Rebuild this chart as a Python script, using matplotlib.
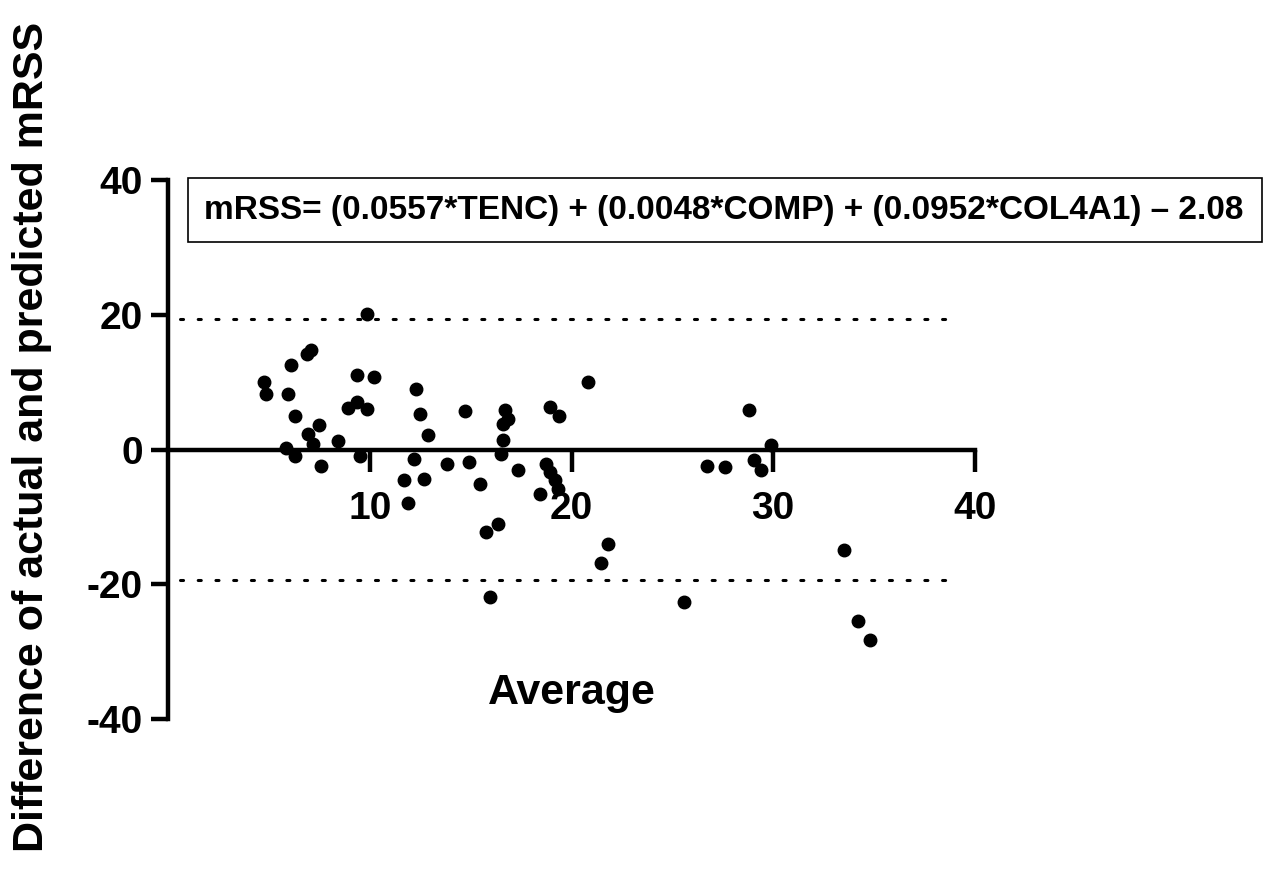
import matplotlib.pyplot as plt
from matplotlib import font_manager
from matplotlib.patches import Rectangle

plt.rcParams['font.family'] = ['Liberation Sans', 'DejaVu Sans']
plt.rcParams['font.weight'] = 'bold'
plt.rcParams['axes.unicode_minus'] = False

# Bland-Altman data
avg = [9.87, 7.11, 6.87, 6.12, 4.77, 4.88, 5.96, 9.37, 10.2, 9.37, 8.93, 9.87,
       6.29, 7.49, 6.95, 7.19, 8.43, 5.87, 6.29, 7.56, 9.5, 12.28, 12.51, 12.89,
       12.19, 13.83, 11.7, 12.67, 11.9, 14.7, 14.92, 15.45, 16.68, 16.85, 16.6,
       16.6, 16.52, 17.34, 16.35, 15.74, 15.94, 18.91, 19.36, 18.74, 18.94,
       19.16, 19.32, 18.42, 20.84, 21.8, 21.47, 28.81, 26.7, 27.62, 29.06,
       29.39, 29.88, 33.51, 25.59, 34.2, 34.8]
diff = [20.1, 14.7, 14.2, 12.5, 10.0, 8.2, 8.3, 11.1, 10.7, 7.0, 6.2, 6.0,
        5.0, 3.6, 2.3, 0.8, 1.3, 0.25, -0.9, -2.4, -0.9, 9.0, 5.3, 2.1,
        -1.4, -2.1, -4.5, -4.4, -7.9, 5.7, -1.9, -5.1, 5.8, 4.55, 3.8,
        1.4, -0.6, -3.0, -11.0, -12.3, -21.9, 6.3, 4.9, -2.1, -3.4,
        -4.6, -5.8, -6.6, 10.0, -14.1, -16.9, 5.8, -2.4, -2.6, -1.6,
        -3.1, 0.6, -14.9, -22.7, -25.4, -28.3]
upper_loa = 19.3
lower_loa = -19.3
loa_x = [0.6, 39.2]
xticks = [10, 20, 30, 40]
yticks = [-40, -20, 0, 20, 40]
equation = 'mRSS= (0.0557*TENC) + (0.0048*COMP) + (0.0952*COL4A1) \u2013 2.08'

# condensed face for the equation box, if there is one
try:
    font_manager.findfont('Liberation Sans Narrow', fallback_to_default=False)
    eq_family, eq_size = ['Liberation Sans Narrow', 'DejaVu Sans'], 28
except ValueError:
    eq_family, eq_size = ['Liberation Sans', 'DejaVu Sans'], 24

fig = plt.figure(figsize=(12.66, 8.82), dpi=100)
ax = fig.add_axes([168 / 1266, 1 - 719 / 882, 807 / 1266, 539 / 882])

ax.plot(loa_x, [upper_loa, upper_loa], color='black', lw=2.2,
        linestyle=(0, (1, 4.8)), dash_capstyle='round')
ax.plot(loa_x, [lower_loa, lower_loa], color='black', lw=2.2,
        linestyle=(0, (1, 4.8)), dash_capstyle='round')
ax.plot(avg, diff, 'o', color='black', markersize=9, clip_on=False)

ax.set_xlim(0, 40)
ax.set_ylim(-40, 40)
ax.spines['top'].set_visible(False)
ax.spines['right'].set_visible(False)
ax.spines['bottom'].set_position(('data', 0))
ax.spines['bottom'].set_bounds(0, 40)
for s in ['left', 'bottom']:
    ax.spines[s].set_linewidth(3.2)

ax.set_xticks(xticks)
ax.set_yticks(yticks)
ax.tick_params(axis='x', length=16, width=3.2, pad=14, labelsize=28)
ax.tick_params(axis='y', length=12, width=3.2, pad=6, labelsize=28)

ax.text(20, -36.2, 'Average', ha='center', va='center', fontsize=31,
        fontweight='bold')
fig.text(0.025, 1 - 437 / 882, 'Difference of actual and predicted mRSS',
         rotation=90, ha='center', va='center', fontsize=31, fontweight='bold')

fig.patches.append(Rectangle((188 / 1266, 1 - 242 / 882), 1074 / 1266, 64 / 882,
                             transform=fig.transFigure, fill=False,
                             edgecolor='black', lw=1.2))
fig.text(204 / 1266, 1 - 210 / 882, equation, ha='left', va='center',
         fontsize=eq_size, fontweight='bold', family=eq_family)

fig.savefig('out.png', dpi=100)
